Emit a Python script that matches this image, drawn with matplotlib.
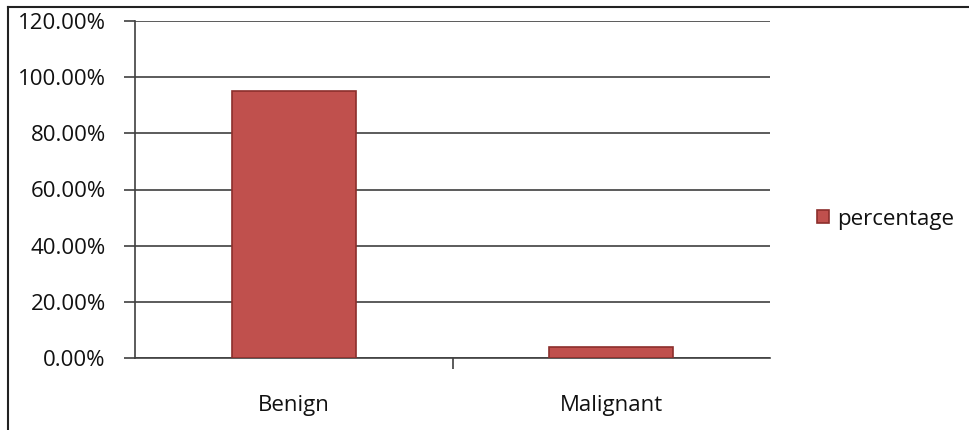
import matplotlib
matplotlib.use("Agg")
import matplotlib.pyplot as plt
from matplotlib.lines import Line2D
from matplotlib.ticker import FuncFormatter

categories = ["Benign", "Malignant"]
percentage = [95.0, 4.0]
yticks = [0, 20, 40, 60, 80, 100, 120]

plt.rcParams['font.family'] = ['Open Sans', 'DejaVu Sans']

W, H = 969, 430
fig = plt.figure(figsize=(W/100, H/100), dpi=100)
ax = fig.add_axes([135/W, 1-358/H, (770-135)/W, (358-21)/H])

ax.bar(range(len(categories)), percentage, width=0.39, color="#C0504D",
       edgecolor="#8C2F2C", linewidth=1.2, label="percentage", zorder=3)
ax.set_xlim(-0.5, len(categories)-0.5)
ax.set_ylim(0, 120)
ax.set_yticks(yticks)
ax.yaxis.set_major_formatter(FuncFormatter(lambda v, p: f"{v:.2f}%"))
ax.grid(axis="y", color="#404040", linewidth=1.2, zorder=0)
ax.set_xticks([0.5])
ax.set_xticklabels([""])
ax.set_xticks(range(len(categories)), minor=True)
ax.set_xticklabels(categories, minor=True)
ax.tick_params(axis="x", which="minor", length=0, pad=27, labelsize=16, colors="#111111")
ax.tick_params(axis="x", which="major", length=8, width=1.2, color="#404040")
ax.tick_params(axis="y", length=8, width=1.2, color="#404040", labelsize=16, pad=13, labelcolor="#111111")
for s in ["top", "right"]:
    ax.spines[s].set_visible(False)
ax.spines["left"].set_color("#404040")
ax.spines["left"].set_linewidth(1.2)
ax.spines["bottom"].set_color("#404040")
ax.spines["bottom"].set_linewidth(1.2)

leg = fig.legend(loc="center left", bbox_to_anchor=(797/W, 1-219/H), frameon=False,
                 fontsize=16, handlelength=0.55, handleheight=0.55, handletextpad=0.35)
for t in leg.get_texts():
    t.set_color("#111111")

# outer frame (left and top edges)
fig.add_artist(Line2D([8/W, 8/W], [0, 1-7/H], transform=fig.transFigure, color="#222222", linewidth=1.5))
fig.add_artist(Line2D([8/W, 1], [1-7/H, 1-7/H], transform=fig.transFigure, color="#222222", linewidth=1.5))

fig.savefig("out.png", dpi=100)
